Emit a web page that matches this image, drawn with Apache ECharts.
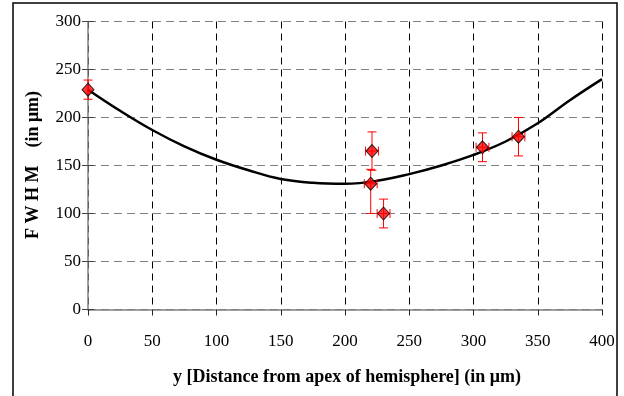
<!DOCTYPE html>
<html>
<head>
<meta charset="utf-8">
<script src="https://cdn.jsdelivr.net/npm/echarts@6/dist/echarts.min.js"></script>
<style>
  html, body { margin: 0; padding: 0; background: #fff; }
  #chart { width: 624px; height: 396px; }
</style>
</head>
<body>
<div id="chart"></div>
<script>
// measured points
const pointX = [0, 221, 220, 230, 307, 335];
const pointY = [229, 165, 131, 100, 169, 180];
const pointYLow = [219, 145, 100, 85, 154, 160];
const pointYHigh = [239, 185, 146, 115, 184, 200];
const pointXErr = [0, 5, 5, 5, 5, 5];

// fitted trend curve
const curveX = [0, 25, 50, 75, 100, 125, 150, 175, 200, 225, 250, 275, 300, 325, 350, 375, 400];
const curveY = [229, 207, 187, 170, 156, 145, 136, 132, 131, 134, 141, 150, 161, 175, 194, 218, 240];

const FONT = '"Liberation Serif", "Times New Roman", serif';

const chart = echarts.init(document.getElementById('chart'), null, { renderer: 'canvas' });

const errorData = pointX.map((x, i) => [x, pointY[i], pointYLow[i], pointYHigh[i], pointXErr[i]]);

function renderError(params, api) {
  const x = api.value(0);
  const y = api.value(1);
  const lo = api.coord([x, api.value(2)]);
  const hi = api.coord([x, api.value(3)]);
  const xe = api.value(4);
  const style = { stroke: '#ff0000', lineWidth: 1 };
  const cap = 4.5;
  const children = [
    { type: 'line', shape: { x1: lo[0], y1: lo[1], x2: hi[0], y2: hi[1] }, style },
    { type: 'line', shape: { x1: lo[0] - cap, y1: lo[1], x2: lo[0] + cap, y2: lo[1] }, style },
    { type: 'line', shape: { x1: hi[0] - cap, y1: hi[1], x2: hi[0] + cap, y2: hi[1] }, style },
  ];
  if (xe > 0) {
    const l = api.coord([x - xe, y]);
    const r = api.coord([x + xe, y]);
    children.push(
      { type: 'line', shape: { x1: l[0], y1: l[1], x2: r[0], y2: r[1] }, style },
      { type: 'line', shape: { x1: l[0], y1: l[1] - cap, x2: l[0], y2: l[1] + cap }, style },
      { type: 'line', shape: { x1: r[0], y1: r[1] - cap, x2: r[0], y2: r[1] + cap }, style },
    );
  }
  return { type: 'group', children };
}

chart.setOption({
  animation: false,
  backgroundColor: '#ffffff',
  grid: { left: 88, right: 22, top: 21.5, bottom: 86.5 },
  xAxis: {
    type: 'value',
    min: 0,
    max: 400,
    interval: 50,
    axisLine: { lineStyle: { color: '#808080', width: 1.5 } },
    axisTick: { length: 6, lineStyle: { color: '#222' } },
    axisLabel: { color: '#000', fontFamily: FONT, fontSize: 17, margin: 24 },
    splitLine: { show: true, lineStyle: { color: '#000', type: [7, 5], width: 1 } },
  },
  yAxis: [
    {
      type: 'value',
      min: 0,
      max: 300,
      interval: 50,
      axisLine: { show: true, lineStyle: { color: '#808080', width: 1.5 } },
      axisTick: { show: true, length: 6, lineStyle: { color: '#444' } },
      axisLabel: { color: '#000', fontFamily: FONT, fontSize: 17, margin: 7 },
      splitLine: { show: true, lineStyle: { color: '#808080', type: [8, 5], width: 1 } },
    },
    {
      type: 'value',
      min: 0,
      max: 300,
      interval: 50,
      position: 'left',
      axisLine: { show: false },
      axisTick: { show: true, inside: true, length: 6, lineStyle: { color: '#444' } },
      axisLabel: { show: false },
      splitLine: { show: false },
    },
  ],
  graphic: [
    {
      type: 'rect',
      shape: { x: 13, y: 3, width: 604, height: 400 },
      style: { fill: null, stroke: '#000', lineWidth: 1.5 },
      silent: true,
    },
    {
      type: 'text',
      x: 347,
      y: 377,
      style: {
        text: 'y [Distance from apex of hemisphere] (in μm)',
        font: 'bold 18px ' + FONT,
        fill: '#000',
        align: 'center',
        verticalAlign: 'middle',
      },
    },
    {
      type: 'text',
      x: 33,
      y: 165,
      rotation: Math.PI / 2,
      style: {
        text: 'F W H M    (in μm)',
        font: 'bold 18px ' + FONT,
        fill: '#000',
        align: 'center',
        verticalAlign: 'middle',
      },
    },
  ],
  series: [
    {
      type: 'line',
      data: curveX.map((x, i) => [x, curveY[i]]),
      smooth: 0.4,
      symbol: 'none',
      lineStyle: { color: '#000', width: 2.5 },
      z: 3,
    },
    {
      type: 'custom',
      data: errorData,
      renderItem: renderError,
      z: 4,
    },
    {
      type: 'scatter',
      data: pointX.map((x, i) => [x, pointY[i]]),
      symbol: 'diamond',
      symbolSize: [12, 13],
      itemStyle: { color: '#ff0000', borderColor: '#000', borderWidth: 1 },
      z: 5,
    },
  ],
});
</script>
</body>
</html>
